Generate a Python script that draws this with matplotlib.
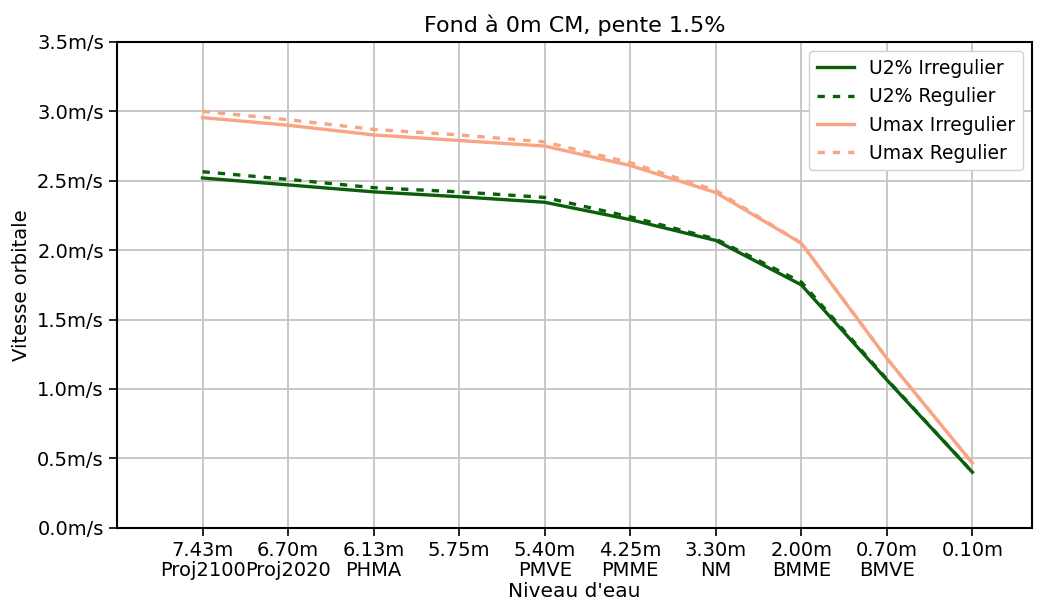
import matplotlib
matplotlib.use("Agg")
import matplotlib.pyplot as plt
import numpy as np

niveaux = ["7.43m", "6.70m", "6.13m", "5.75m", "5.40m", "4.25m", "3.30m", "2.00m", "0.70m", "0.10m"]
noms = ["Proj2100", "Proj2020", "PHMA", "", "PMVE", "PMME", "NM", "BMME", "BMVE", ""]

u2_irreg = [2.52, 2.47, 2.42, 2.385, 2.345, 2.22, 2.07, 1.75, 1.065, 0.40]
u2_reg = [2.565, 2.51, 2.45, 2.42, 2.38, 2.24, 2.08, 1.77, 1.07, 0.40]
umax_irreg = [2.955, 2.90, 2.83, 2.79, 2.75, 2.61, 2.415, 2.05, 1.22, 0.465]
umax_reg = [3.00, 2.94, 2.87, 2.83, 2.78, 2.63, 2.43, 2.05, 1.22, 0.465]

yticks = [0.0, 0.5, 1.0, 1.5, 2.0, 2.5, 3.0, 3.5]

green = "#0b5e0b"
salmon = "#f9a482"

fig = plt.figure(figsize=(10.48, 6.08), dpi=100)
ax = fig.add_axes([0.1116, 0.132, 0.8734, 0.799])
x = np.arange(len(niveaux))

dash = (0, (2.2, 2.4))
ax.plot(x, u2_irreg, color=green, lw=2.4, label="U2% Irregulier")
ax.plot(x, u2_reg, color=green, lw=2.4, ls=dash, label="U2% Regulier")
ax.plot(x, umax_irreg, color=salmon, lw=2.4, label="Umax Irregulier")
ax.plot(x, umax_reg, color=salmon, lw=2.4, ls=dash, label="Umax Regulier")

ax.set_xlim(-1.0, 9.7)
ax.set_ylim(0, 3.5)
ax.set_xticks(x)
ax.set_xticklabels([f"{a}\n{b}" for a, b in zip(niveaux, noms)], fontsize=14, linespacing=1.05)
ax.set_yticks(yticks)
ax.set_yticklabels([f"{v:.1f}m/s" for v in yticks], fontsize=14)
ax.grid(True, color="#c4c4c4", lw=1.3)
ax.set_axisbelow(True)
ax.tick_params(length=6, width=1.2)
for s in ax.spines.values():
    s.set_linewidth(1.5)

ax.set_xlabel("Niveau d'eau", fontsize=14.5, labelpad=2)
ax.set_ylabel("Vitesse orbitale", fontsize=14)
ax.set_title("Fond à 0m CM, pente 1.5%", fontsize=16, pad=7)
ax.legend(loc="upper right", fontsize=13.5, framealpha=1.0, edgecolor="#d0d0d0")

fig.savefig("out.png", dpi=100)
